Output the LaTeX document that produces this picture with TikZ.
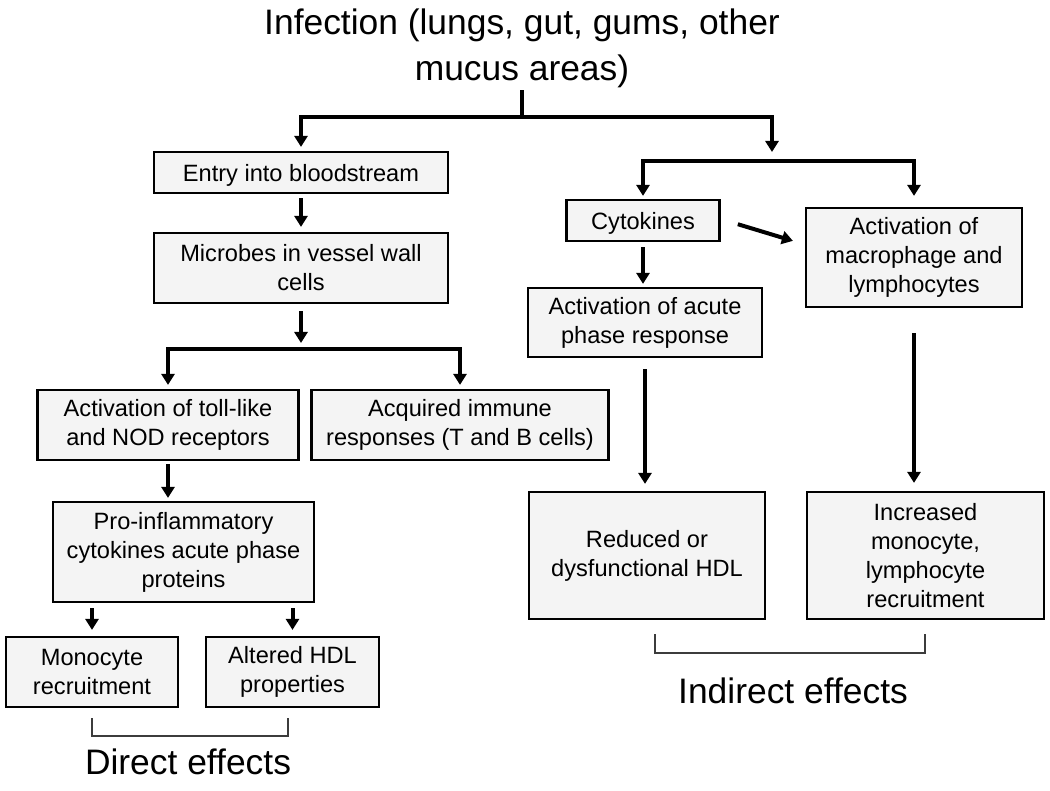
\documentclass[tikz,border=0pt]{standalone}
\usepackage{fontspec}
\setmainfont{Liberation Sans}
\usepackage{tikz}
\usetikzlibrary{arrows.meta}

\definecolor{boxgray}{RGB}{244,244,244}
\definecolor{brkgray}{RGB}{60,60,60}
\newcommand{\boxfont}{\fontsize{11.8}{14.5}\selectfont}
\newcommand{\bigfont}{\fontsize{17.7}{23}\selectfont}

\begin{document}
\begin{tikzpicture}[x=0.5pt,y=-0.5pt,
		box/.style={draw=black, line width=1.1pt, fill=boxgray, align=center, inner sep=0pt, font=\boxfont},
		arr/.style={-{Triangle[length=5.5pt,width=6.5pt]}, line width=2pt, shorten >=2pt},
		thk/.style={line width=2pt},
		brk/.style={line width=0.75pt, draw=brkgray}]
			\useasboundingbox (0,0) rectangle (1050,791);

			\node[font=\bigfont, align=center, inner sep=0pt] (title) at (522,48.5) {Infection (lungs, gut, gums, other\\mucus areas)};

			%% left side
			\node[box, minimum width=147pt, minimum height=20.5pt, text depth=0pt] (entry) at (301,172.5) {Entry into bloodstream};
			\node[box, minimum width=147pt, minimum height=35pt] (microbes) at (301,268) {Microbes in vessel wall\\cells};
			\node[box, minimum width=130.5pt, minimum height=35pt] (toll) at (168,425) {Activation of toll-like\\and NOD receptors};
			\node[box, minimum width=148.5pt, minimum height=35pt] (acquired) at (460,425) {Acquired immune\\responses (T and B cells)};
			\node[box, minimum width=130.5pt, minimum height=50pt] (proinf) at (183.5,552) {Pro-inflammatory\\cytokines acute phase\\proteins};
			\node[box, minimum width=86pt, minimum height=35pt] (mono) at (92,672) {Monocyte\\recruitment};
			\node[box, minimum width=86.5pt, minimum height=35pt] (altered) at (292.5,672) {Altered HDL\\properties};
			\node[font=\bigfont, inner sep=0pt] (direct) at (188,762) {Direct effects};

			%% right side
			\node[box, minimum width=76.5pt, minimum height=20.5pt, text depth=0pt] (cyto) at (643,220.5) {Cytokines};
			\node[box, minimum width=108pt, minimum height=49.5pt] (macro) at (914,257.5) {Activation of\\macrophage and\\lymphocytes};
			\node[box, minimum width=117pt, minimum height=34.5pt] (acute) at (645,322.5) {Activation of acute\\phase response};
			\node[box, minimum width=118pt, minimum height=63.5pt] (reduced) at (647,555.5) {Reduced or\\dysfunctional HDL};
			\node[box, minimum width=118.5pt, minimum height=63.5pt] (increased) at (925.5,555.5) {Increased\\monocyte,\\lymphocyte\\recruitment};
			\node[font=\bigfont, inner sep=0pt] (indirect) at (793,691) {Indirect effects};

			%% split points
			\coordinate (tsplit) at (522,117);
			\coordinate (rdrop) at (772,156);
			\coordinate (rsplit) at (778,161);
			\coordinate (mstub) at (301,347);
			\coordinate (msplit) at (314,349);

			%% lines
			\draw[thk, shorten <=1pt] (title.south) -- (tsplit);
			\draw[arr] (tsplit) -| (entry.north);
			\draw[arr] (tsplit) -| (rdrop);
			\draw[arr, shorten <=2pt, shorten >=2.5pt] (entry.south) -- (microbes.north);
			\draw[arr, shorten <=3.5pt] (microbes.south) -- (mstub);
			\draw[arr] (msplit) -| (toll.north);
			\draw[arr] (msplit) -| (acquired.north);
			\draw[arr, shorten <=1.5pt, shorten >=1.5pt] (toll.south) -- (toll.south |- proinf.north);
			\draw[arr, shorten <=2.5pt, shorten >=3pt] (proinf.south -| mono.north) -- (mono.north);
			\draw[arr, shorten <=2.5pt, shorten >=3pt] (proinf.south -| altered.north) -- (altered.north);

			\draw[arr, shorten >=1.5pt] (rsplit) -| (cyto.north);
			\draw[arr, shorten >=5.5pt] (rsplit) -| (macro.north);
			\draw[arr, shorten <=9pt, shorten >=6.25pt] ([yshift=0.75pt]cyto.east) -- ([yshift=6.5pt]macro.west);
			\draw[arr, shorten <=2.5pt, shorten >=1.5pt] (cyto.south) -- (cyto.south |- acute.north);
			\draw[arr, shorten <=5.5pt, shorten >=3.5pt] (acute.south) -- (acute.south |- reduced.north);
			\draw[arr, shorten <=12.5pt, shorten >=4pt] (macro.south) -- (macro.south |- increased.north);

			%% brackets
			\draw[brk] (92,718) |- (288,736) -- (288,718);
			\draw[brk] (655,634) |- (925,653) -- (925,634);
		\end{tikzpicture}
\end{document}
